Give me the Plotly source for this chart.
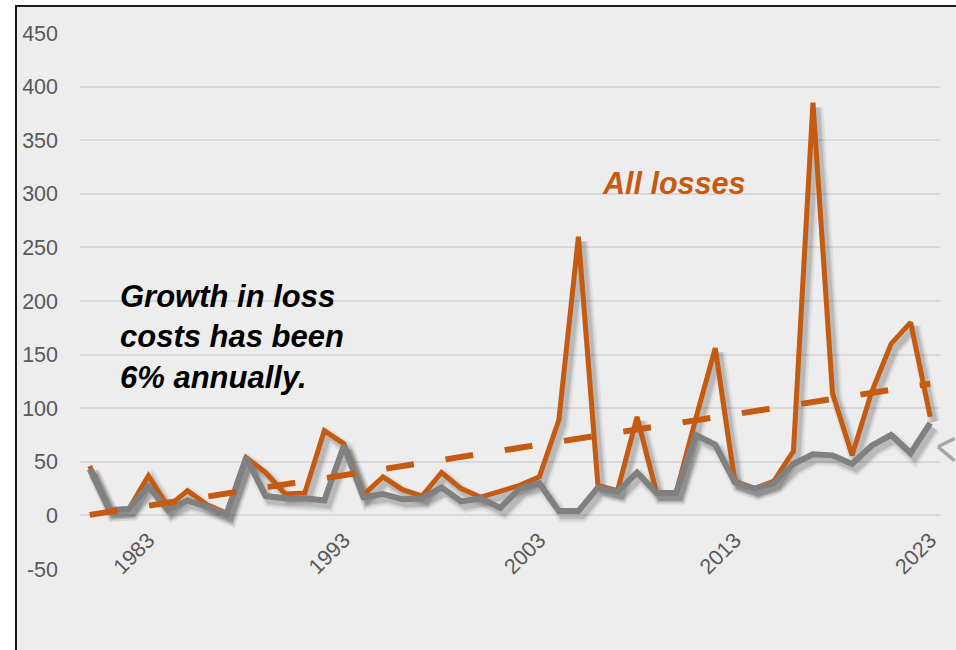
import numpy as np
import plotly.graph_objects as go

# ---- data -------------------------------------------------------------
years = list(range(1980, 2024))

all_losses = [46, 5, 6, 37, 8, 23, 10, 2, 54, 40,
              20, 21, 79, 67, 19, 36, 24, 18, 40, 25,
              17, 22, 28, 36, 89, 260, 28, 23, 92, 21,
              21, 90, 156, 32, 25, 32, 60, 385, 114, 56,
              115, 160, 180, 92]

core_losses = [43, 5, 6, 27, 5, 14, 8, 1, 54, 18,
               16, 16, 14, 65, 17, 20, 15, 16, 26, 13,
               16, 7, 25, 30, 4, 4, 26, 22, 40, 21,
               21, 75, 66, 31, 25, 30, 48, 57, 56, 48,
               65, 75, 58, 86]

tick_years = [1983, 1993, 2003, 2013, 2023]
y_ticks = list(range(-50, 451, 50))

# linear trend of all losses
slope, intercept = np.polyfit(years, all_losses, 1)
trend = [slope * y + intercept for y in years]

# ---- styling ----------------------------------------------------------
W, H = 956, 650
L, R, T, B = 80, 16, 33, 81
X_RANGE = [1979.5, 2023.5]
Y_RANGE = [-50, 450]
px_per_year = (W - L - R) / (X_RANGE[1] - X_RANGE[0])
px_per_unit = (H - T - B) / (Y_RANGE[1] - Y_RANGE[0])

ORANGE = "#C55A11"
GREY = "#808080"
BG = "#EDEDED"
FONT = "Liberation Sans, Arial, sans-serif"

# soft drop shadow: same data on an overlay axis pair shifted a few pixels
sh_dx, sh_dy = 4 / px_per_year, 5 / px_per_unit

fig = go.Figure()

for series in (all_losses, core_losses):
    for width, alpha in ((13, 0.05), (9, 0.08), (6, 0.10)):
        fig.add_trace(go.Scatter(
            x=years, y=series, mode="lines", xaxis="x2", yaxis="y2",
            line=dict(color=f"rgba(0,0,0,{alpha})", width=width),
            hoverinfo="skip"))

fig.add_trace(go.Scatter(x=years, y=all_losses, mode="lines",
                         xaxis="x3", yaxis="y3",
                         line=dict(color=ORANGE, width=5)))
fig.add_trace(go.Scatter(x=years, y=core_losses, mode="lines",
                         xaxis="x3", yaxis="y3",
                         line=dict(color=GREY, width=6)))
fig.add_trace(go.Scatter(x=years, y=trend, mode="lines",
                         xaxis="x3", yaxis="y3",
                         line=dict(color=ORANGE, width=6, dash="28px,32px")))

hidden = dict(visible=False, showgrid=False, zeroline=False)

fig.update_layout(
    width=W, height=H,
    margin=dict(l=L, r=R, t=T, b=B, pad=0),
    paper_bgcolor="white",
    plot_bgcolor=BG,
    showlegend=False,
    font=dict(family=FONT, color="#595959"),
    xaxis=dict(range=X_RANGE, tickvals=tick_years,
               ticktext=[str(t) for t in tick_years],
               tickangle=-45, showgrid=False, zeroline=False, showline=False,
               ticks="", anchor="free",
               position=(0 - Y_RANGE[0]) / (Y_RANGE[1] - Y_RANGE[0]),
               tickfont=dict(size=21.5, color="#595959"),
               ticklabelstandoff=7),
    yaxis=dict(range=Y_RANGE, tickvals=y_ticks,
               ticktext=[str(v) for v in y_ticks], showgrid=True,
               gridcolor="#D9D9D9", gridwidth=1.5, zeroline=False,
               showline=False, ticks="",
               tickfont=dict(size=21.5, color="#595959"),
               ticklabelstandoff=21),
    xaxis2=dict(overlaying="x", anchor="y2",
                range=[X_RANGE[0] - sh_dx, X_RANGE[1] - sh_dx], **hidden),
    yaxis2=dict(overlaying="y", anchor="x2",
                range=[Y_RANGE[0] + sh_dy, Y_RANGE[1] + sh_dy], **hidden),
    xaxis3=dict(overlaying="x", anchor="y3", range=X_RANGE, **hidden),
    yaxis3=dict(overlaying="y", anchor="x3", range=Y_RANGE, **hidden),
)

# chart-area frame and fill
fig.add_shape(type="rect", xref="paper", yref="paper", layer="below",
              x0=(16 - L) / (W - L - R), x1=1.2,
              y0=-0.4, y1=1 + (T - 6) / (H - T - B),
              line=dict(color="#1a1a1a", width=2), fillcolor=BG)

fig.add_annotation(x=2006.1, y=310, xref="x", yref="y",
                   text="<b><i>All losses</i></b>", showarrow=False,
                   xanchor="left", yanchor="middle",
                   font=dict(family=FONT, size=30.5, color=ORANGE))

fig.add_annotation(x=1981.45, y=222, xref="x", yref="y",
                   text="<b><i>Growth in loss<br>costs has been<br>6% annually.</i></b>",
                   showarrow=False, align="left",
                   xanchor="left", yanchor="top",
                   font=dict(family=FONT, size=31, color="black"))

# open "<" pointer toward the grey series, entering from the right edge
for ax, ay in ((24, -9), (24, 15)):
    fig.add_annotation(x=2023.4, y=64, xref="x", yref="y", text="",
                       showarrow=True, arrowhead=0, arrowwidth=3.5,
                       arrowcolor="#A6A6A6", ax=ax, ay=ay)

fig.write_html("out.html")
